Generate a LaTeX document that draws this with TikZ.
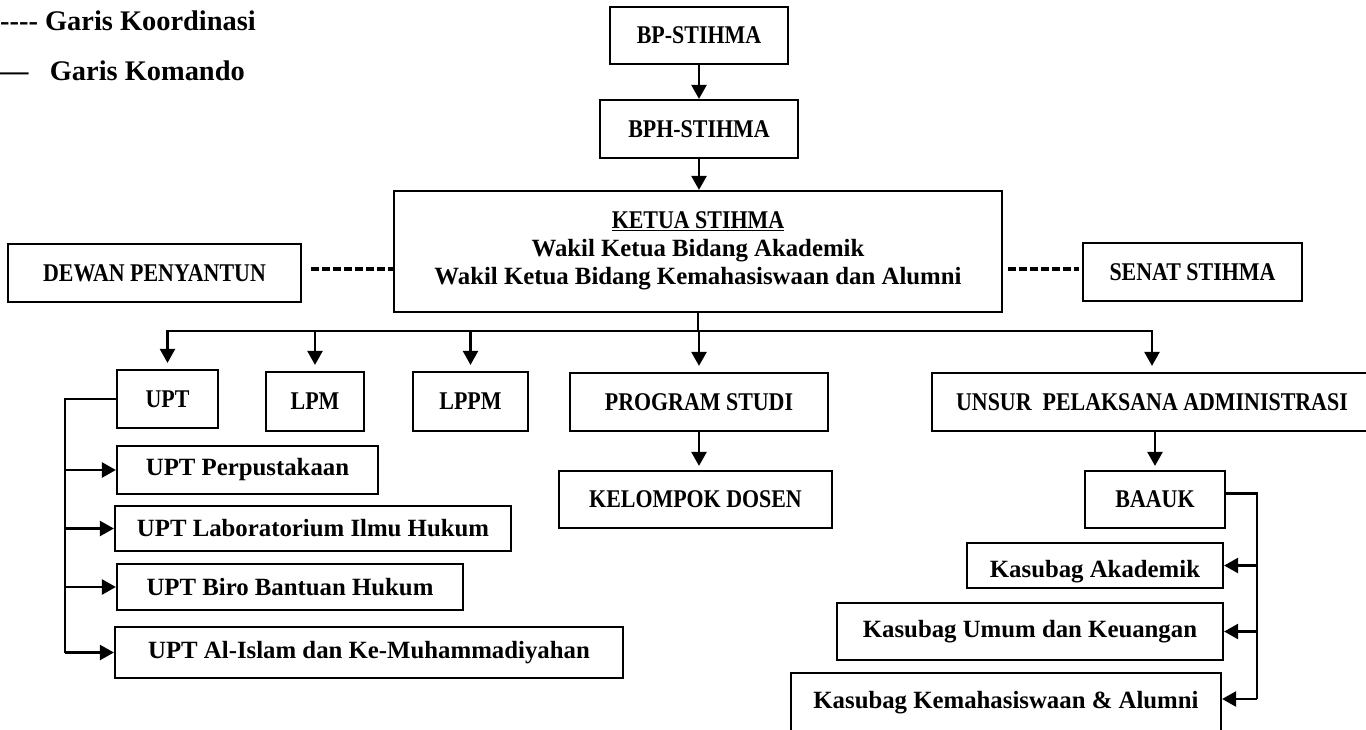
\documentclass[tikz,border=0pt]{standalone}
\usepackage{fontspec}
\setmainfont{Liberation Serif}
\newfontfamily\capfont{Liberation Serif}[FakeStretch=0.86]
\usepackage{tikz}
\usetikzlibrary{positioning,arrows.meta,calc}
\tikzset{
  blk/.style    ={draw, rectangle, line width=2.2pt, align=center, inner sep=0pt, font=\fontsize{24.8}{28}\selectfont\bfseries},
  capblk/.style ={blk, font=\capfont\fontsize{25.5}{28}\selectfont\bfseries},
  legend/.style ={inner sep=0pt, font=\fontsize{28.4}{32}\selectfont\bfseries},
  arr/.style    ={-{Triangle[length=14pt,width=15pt]}, line width=2.4pt},
  cmd/.style    ={line width=2.4pt},
  koord/.style  ={line width=3.2pt, dash pattern=on 7.5pt off 3.5pt},
}
\begin{document}
\begin{tikzpicture}[x=1pt, y=-1pt]
  \useasboundingbox (0,0) rectangle (1366,729);

  % legend
  \node[legend, anchor=base west] (lgkoord) at (0,30) {-\kern0pt-\kern0pt-\kern0pt- Garis Koordinasi};
  \node[legend, anchor=base west] (lgkomando) at (0,80) {—\ \ \ Garis Komando};

  % top
  \node[capblk, minimum width=178pt, minimum height=57pt] (bp) at (699,35.5) {BP-STIHMA};
  \node[capblk, minimum width=198pt, minimum height=58pt] (bph) at (699,129) {BPH-STIHMA};
  \node[blk, minimum width=608pt, minimum height=121pt] (ketua) at (698,251.5)
    {{\capfont\fontsize{25.5}{28}\selectfont\underline{KETUA STIHMA}}\\ Wakil Ketua Bidang Akademik\\ Wakil Ketua Bidang Kemahasiswaan dan Alumni\\[-22pt]};
  \node[capblk, minimum width=293pt, minimum height=58pt] (dewan) at (154.5,273) {DEWAN PENYANTUN};
  \node[capblk, minimum width=219pt, minimum height=58pt] (senat) at (1192.5,272) {SENAT STIHMA};

  % second row
  \node[capblk, minimum width=101pt, minimum height=58pt] (upt) at (167.5,399) {UPT};
  \node[capblk, minimum width=98pt, minimum height=59pt] (lpm) at (315,401.5) {LPM};
  \node[capblk, minimum width=115pt, minimum height=59pt] (lppm) at (470.5,401.5) {LPPM};
  \node[capblk, minimum width=258pt, minimum height=58pt] (prodi) at (699,402) {PROGRAM STUDI};
  \node[capblk, minimum width=440pt, minimum height=58pt] (unsur) at (1152,402) {UNSUR\ \ PELAKSANA ADMINISTRASI};
  \node[capblk, minimum width=273pt, minimum height=57pt] (dosen) at (695.5,499.5) {KELOMPOK DOSEN};
  \node[capblk, minimum width=140pt, minimum height=57pt] (baauk) at (1155,499.5) {BAAUK};

  % UPT units
  \node[blk, minimum width=261pt, minimum height=48pt] (perpus) at (247.5,470) {UPT Perpustakaan};
  \node[blk, minimum width=396pt, minimum height=45pt] (lab) at (313,528.5) {UPT Laboratorium Ilmu Hukum};
  \node[blk, minimum width=346pt, minimum height=46pt] (biro) at (290,587) {UPT Biro Bantuan Hukum};
  \node[blk, minimum width=508pt, minimum height=51pt] (aik) at (369,652.5) {UPT Al-Islam dan Ke-Muhammadiyahan};

  % BAAUK units
  \node[blk, anchor=base, minimum width=256pt, text height=34pt, text depth=11pt] (kakad) at (1095,577) {Kasubag Akademik};
  \node[blk, minimum width=386pt, minimum height=57pt] (kumum) at (1030,631.5) {Kasubag Umum dan Keuangan};
  \node[blk, anchor=base, minimum width=430pt, text height=35pt, text depth=50pt] (kmhs) at (1006,708) {Kasubag Kemahasiswaan \& Alumni};

  % coordination lines
  \coordinate (dl) at ([yshift=4pt]dewan.east);
  \coordinate (sr) at ([yshift=3pt]senat.west);
  \draw[koord, shorten <=9pt] (dl) -- (dl -| ketua.west);
  \draw[koord, shorten <=5pt, shorten >=3pt] (ketua.east |- sr) -- (sr);

  % command lines
  \draw[arr] (bp.south) -- (bp.south |- bph.north);
  \draw[arr] (bph.south) -- (bph.south |- ketua.north);
  \coordinate (bus) at (699,331);
  \draw[cmd] (ketua.south) -- (ketua.south |- bus);
  \draw[cmd, line cap=rect] (upt.north |- bus) -- (unsur.north |- bus);
  \foreach \n in {upt,lpm,lppm,prodi,unsur}
    \draw[arr, shorten >=6pt] (\n.north |- bus) -- (\n.north);
  \draw[arr, shorten >=4pt] (prodi.south) -- (prodi.south |- dosen.north);
  \draw[arr, shorten >=4pt] (baauk.north |- unsur.south) -- (baauk.north);

  \coordinate (uptl) at (65,0);
  \draw[cmd] (upt.west) -| (uptl |- aik.west);
  \foreach \n in {perpus,lab,biro,aik}
    \draw[arr] (uptl |- \n.west) -- (\n.west);

  \coordinate (baaukr) at (1257,0);
  \coordinate (be) at ([yshift=6pt]baauk.east);
  \coordinate (km) at ([yshift=9pt]kmhs.base east);
  \draw[cmd] (be) -| (baaukr |- km);
  \foreach \n in {kakad.east,kumum.east,km}
    \draw[arr] (baaukr |- \n) -- (\n);
\end{tikzpicture}
\end{document}
